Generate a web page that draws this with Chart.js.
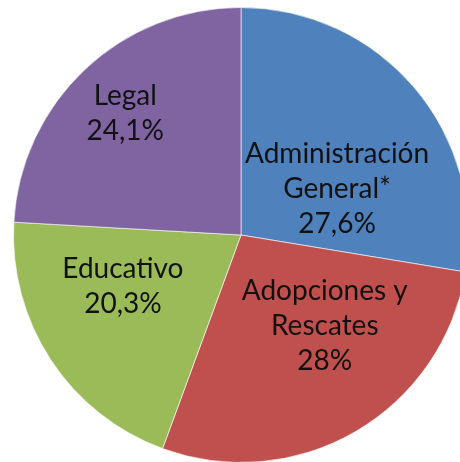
<!DOCTYPE html>
<html>
<head>
<meta charset="utf-8">
<script src="https://cdn.jsdelivr.net/npm/chart.js@4"></script>
<style>
  html, body { margin: 0; padding: 0; background: #fff; overflow: hidden; }
  #wrap { position: absolute; left: 0; top: 0; width: 482px; height: 470px; }
</style>
</head>
<body>
<div id="wrap"><canvas id="pie"></canvas></div>
<script>
// datos del gráfico
const categories = [["Administración", "General*"], ["Adopciones y", "Rescates"], ["Educativo"], ["Legal"]];
const values = [27.6, 28, 20.3, 24.1];
const colors = ["#4F81BD", "#C0504D", "#9BBB59", "#8064A2"];

// etiqueta dentro de cada porción (nombre + porcentaje)
const sliceLabels = {
    id: "sliceLabels",
    afterDatasetsDraw(chart, args, opts) {
        const ctx = chart.ctx;
        const arcs = chart.getDatasetMeta(0).data;
        ctx.save();
        ctx.font = opts.font;
        ctx.fillStyle = opts.color;
        ctx.textAlign = "center";
        ctx.textBaseline = "middle";
        arcs.forEach((arc, i) => {
            const p = arc.getProps(["x", "y", "startAngle", "endAngle", "outerRadius"], true);
            const mid = (p.startAngle + p.endAngle) / 2;
            const off = opts.offsets[i];
            const cx = p.x + Math.cos(mid) * p.outerRadius * 0.6 + off[0];
            const cy = p.y + Math.sin(mid) * p.outerRadius * 0.6 + off[1];
            const pct = values[i].toString().replace(".", ",") + "%";
            const lines = categories[i].concat([pct]);
            const top = cy - (lines.length - 1) * opts.lineHeight / 2;
            lines.forEach((t, k) => ctx.fillText(t, cx, top + k * opts.lineHeight));
        });
        ctx.restore();
    }
};

new Chart(document.getElementById("pie"), {
    type: "pie",
    data: {
        labels: categories.map(c => c.join(" ")),
        datasets: [{
            data: values,
            backgroundColor: colors,
            borderColor: "rgba(255,255,255,0.6)",
            borderWidth: 1
        }]
    },
    options: {
        responsive: true,
        maintainAspectRatio: false,
        animation: false,
        layout: { padding: 7 },
        plugins: {
            legend: { display: false },
            tooltip: { enabled: false },
            sliceLabels: {
                font: "28px Lato",
                color: "#111",
                lineHeight: 35,
                offsets: [[-8, 42], [15, -27], [-4, -23], [-22, -22]]
            }
        }
    },
    plugins: [sliceLabels]
});
</script>
</body>
</html>
